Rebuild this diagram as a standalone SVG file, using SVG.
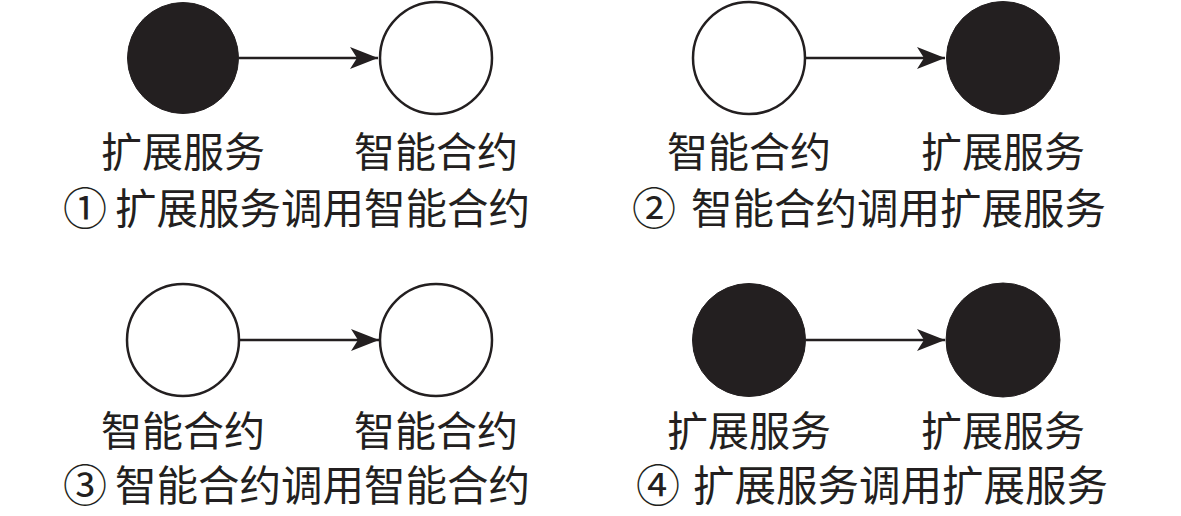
<svg xmlns="http://www.w3.org/2000/svg" width="1181" height="516" viewBox="0 0 1181 516">
<style>
.dark{fill:#231f20;stroke:#231f20;stroke-width:1}
.light{fill:#ffffff;stroke:#231f20;stroke-width:2.5}
.edge{stroke:#231f20;stroke-width:2.5;fill:none}
text{font-family:"Noto Sans CJK SC","Noto Sans",sans-serif;fill:#231f20}
.lbl{font-size:41px;text-anchor:middle}
.cap{font-size:41.5px}
.num{font-size:44px}
</style>
<defs>
<marker id="ah" markerUnits="userSpaceOnUse" markerWidth="30" markerHeight="24" refX="28" refY="11" orient="auto" viewBox="0 0 30 22">
<path d="M0,0 L28,11 L0,22 L7,11 Z" fill="#231f20"/>
</marker>
</defs>
<rect width="1181" height="516" fill="#ffffff"/>
<g id="connectors">
<line class="edge" x1="239" y1="58" x2="378" y2="58" marker-end="url(#ah)"/>
<line class="edge" x1="806" y1="58" x2="945" y2="58" marker-end="url(#ah)"/>
<line class="edge" x1="240" y1="340" x2="379" y2="340" marker-end="url(#ah)"/>
<line class="edge" x1="806" y1="340" x2="945" y2="340" marker-end="url(#ah)"/>
</g>
<g id="p1-ext"><circle class="dark" cx="183" cy="58" r="55.5"/><text class="lbl" x="183" y="167">扩展服务</text></g>
<g id="p1-sc"><circle class="light" cx="436" cy="58" r="56"/><text class="lbl" x="436" y="167">智能合约</text></g>
<g id="p2-sc"><circle class="light" cx="749" cy="58" r="56"/><text class="lbl" x="749" y="167">智能合约</text></g>
<g id="p2-ext"><circle class="dark" cx="1003" cy="58" r="56.5"/><text class="lbl" x="1003" y="167">扩展服务</text></g>
<g id="p3-sc1"><circle class="light" cx="183" cy="340" r="56"/><text class="lbl" x="183" y="446">智能合约</text></g>
<g id="p3-sc2"><circle class="light" cx="436" cy="340" r="56"/><text class="lbl" x="436" y="446">智能合约</text></g>
<g id="p4-ext1"><circle class="dark" cx="749" cy="340" r="56.5"/><text class="lbl" x="749" y="446">扩展服务</text></g>
<g id="p4-ext2"><circle class="dark" cx="1003" cy="340" r="57"/><text class="lbl" x="1003" y="446">扩展服务</text></g>
<g id="captions">
<text class="cap" y="224"><tspan class="num" x="63" dy="1">①</tspan><tspan x="115" dy="-1">扩展服务调用智能合约</tspan></text>
<text class="cap" y="224"><tspan class="num" x="632" dy="1">②</tspan><tspan x="691" dy="-1">智能合约调用扩展服务</tspan></text>
<text class="cap" y="501"><tspan class="num" x="63" dy="1">③</tspan><tspan x="115" dy="-1">智能合约调用智能合约</tspan></text>
<text class="cap" y="501"><tspan class="num" x="636" dy="1">④</tspan><tspan x="693" dy="-1">扩展服务调用扩展服务</tspan></text>
</g>
</svg>
